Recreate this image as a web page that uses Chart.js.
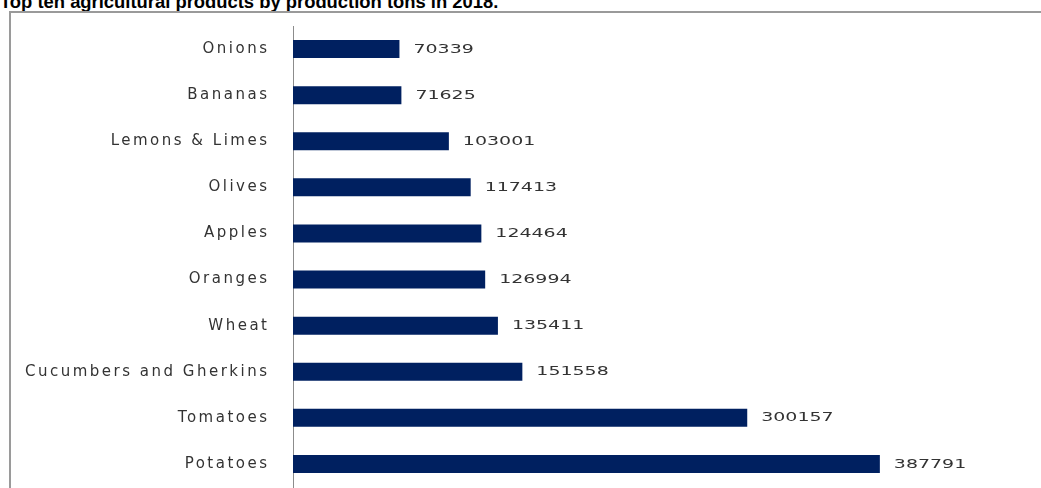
<!DOCTYPE html>
<html lang="en">
<head>
    <meta charset="UTF-8">
    <title>Top ten agricultural products</title>
    <script src="https://cdn.jsdelivr.net/npm/chart.js"></script>
    <style>
        html, body {
            margin: 0;
            padding: 0;
            background: #fff;
            overflow: hidden;
        }

        .title {
            position: absolute;
            left: 0;
            top: -7px;
            font: bold 18.4px "Liberation Sans", Arial, sans-serif;
            line-height: 18px;
            color: #000;
            white-space: nowrap;
        }

        .frame {
            position: absolute;
            left: 9px;
            top: 11px;
            width: 1200px;
            height: 600px;
            border: 2px solid #9a9a9a;
        }

        .chart-box {
            position: absolute;
            left: 0;
            top: 0;
            width: 1041px;
            height: 488px;
        }
    </style>
</head>
<body>
    <div class="title">Top ten agricultural products by production tons in 2018.</div>
    <div class="frame"></div>
    <div class="chart-box">
        <canvas id="barChart"></canvas>
    </div>

    <script>
        // products, top of the chart first
        const products = ['Onions', 'Bananas', 'Lemons & Limes', 'Olives', 'Apples',
            'Oranges', 'Wheat', 'Cucumbers and Gherkins', 'Tomatoes', 'Potatoes'];
        // production in tons
        const tons = [70339, 71625, 103001, 117413, 124464,
            126994, 135411, 151558, 300157, 387791];

        const barColor = '#002060';
        const textColor = '#333333';

        // spaced-out label text, the source uses a wide font
        const spacing = {
            id: 'spacing',
            beforeLayout(chart) { chart.ctx.letterSpacing = '2.5px'; },
            beforeDraw(chart) { chart.ctx.letterSpacing = '2.5px'; }
        };

        // value printed after the end of each bar
        const valueLabels = {
            id: 'valueLabels',
            afterDatasetsDraw(chart) {
                const ctx = chart.ctx;
                const meta = chart.getDatasetMeta(0);
                ctx.save();
                ctx.letterSpacing = '0px';
                ctx.font = '12px "DejaVu Sans", sans-serif';
                ctx.fillStyle = textColor;
                ctx.textAlign = 'left';
                ctx.textBaseline = 'middle';
                meta.data.forEach((bar, i) => {
                    ctx.save();
                    ctx.translate(bar.x + 14, bar.y + 0.5);
                    ctx.scale(1.58, 1);
                    ctx.fillText(String(tons[i]), 0, 0);
                    ctx.restore();
                });
                ctx.restore();
            }
        };

        const ctx = document.getElementById('barChart').getContext('2d');

        new Chart(ctx, {
            type: 'bar',
            data: {
                labels: products,
                datasets: [{
                    data: tons,
                    backgroundColor: barColor,
                    borderWidth: 0,
                    barPercentage: 0.39,
                    categoryPercentage: 1
                }]
            },
            options: {
                indexAxis: 'y',
                responsive: true,
                maintainAspectRatio: false,
                animation: false,
                layout: {
                    padding: { top: 26, bottom: 1, left: 0, right: 67 }
                },
                plugins: {
                    legend: { display: false },
                    tooltip: { enabled: false }
                },
                scales: {
                    x: {
                        display: false,
                        min: 0,
                        max: 450000
                    },
                    y: {
                        grid: { display: false, drawTicks: false },
                        border: { display: true, color: '#8c8c8c', width: 1 },
                        ticks: {
                            color: textColor,
                            padding: 23.5,
                            font: { family: '"DejaVu Sans", sans-serif', size: 15 }
                        },
                        afterFit(scale) {
                            scale.width = 293;
                            scale.paddingTop = 0;
                            scale.paddingBottom = 0;
                        }
                    }
                }
            },
            plugins: [spacing, valueLabels]
        });
    </script>
</body>
</html>
